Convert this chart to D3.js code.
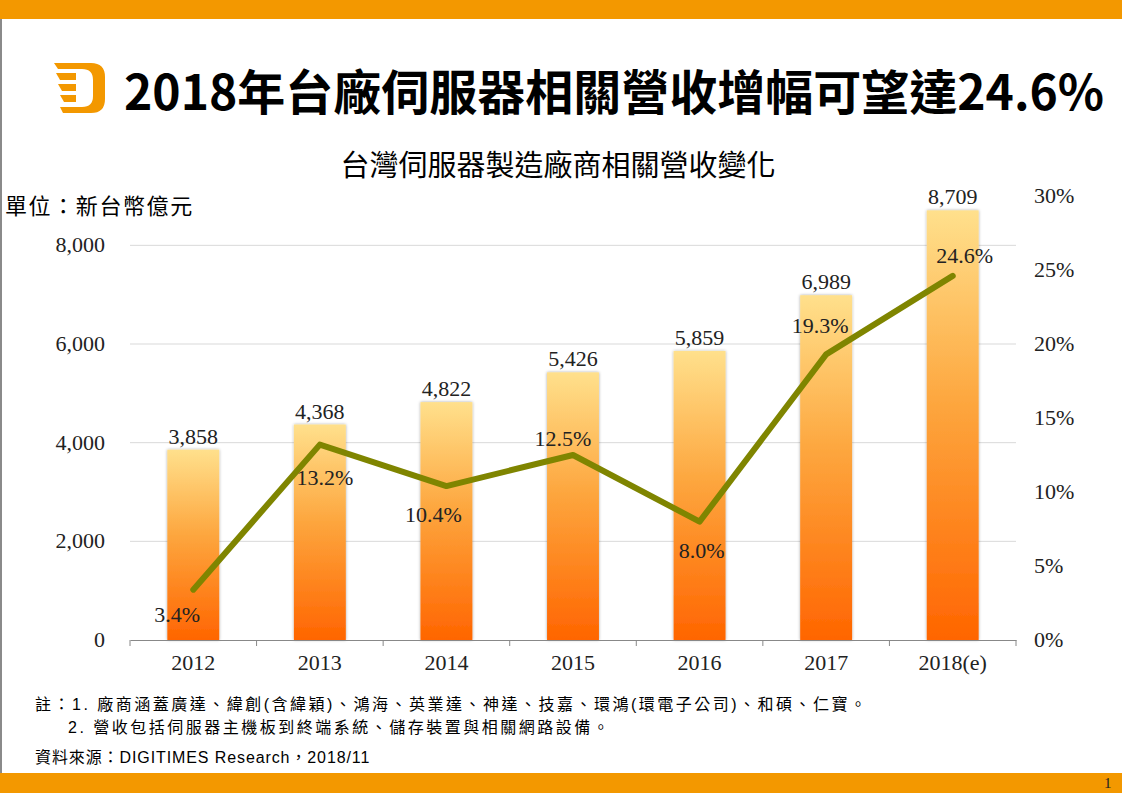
<!DOCTYPE html>
<html>
<head>
<meta charset="utf-8">
<script src="https://cdn.jsdelivr.net/npm/d3@7"></script>
<style>
  body { margin: 0; background: #fff; }
  svg { display: block; }
  .serif { font-family: 'Liberation Serif', 'Times New Roman', serif; fill: #222; }
  .cjk { font-family: 'Noto Sans CJK TC', 'Noto Sans', sans-serif; }
  .note { font-family: 'Liberation Sans', 'Noto Sans CJK TC', sans-serif; }
</style>
</head>
<body>
<svg id="chart"></svg>
<script>
const years = ['2012', '2013', '2014', '2015', '2016', '2017', '2018(e)']
const revenue = [3858, 4368, 4822, 5426, 5859, 6989, 8709]
const growth = [3.4, 13.2, 10.4, 12.5, 8.0, 19.3, 24.6]
const leftTicks = [0, 2000, 4000, 6000, 8000]
const rightTicks = [0, 5, 10, 15, 20, 25, 30]
// where each growth label sits relative to its point
const growthLabelOffset = [[-16, 32], [5, 40], [-13, 36], [-10, -9], [2, 36], [-6, -21], [12, -13]]

const W = 1122, H = 793
const plot = { left: 130, right: 1016, top: 196, bottom: 640 }

const svg = d3.select('#chart').attr('width', W).attr('height', H)

const defs = svg.append('defs')
const grad = defs.append('linearGradient')
  .attr('id', 'barGrad').attr('x1', 0).attr('y1', 0).attr('x2', 0).attr('y2', 1)
grad.append('stop').attr('offset', '0%').attr('stop-color', '#FFE08C')
grad.append('stop').attr('offset', '45%').attr('stop-color', '#FDA63E')
grad.append('stop').attr('offset', '100%').attr('stop-color', '#FF6500')
const shadow = defs.append('filter').attr('id', 'barShadow')
  .attr('x', '-20%').attr('y', '-5%').attr('width', '140%').attr('height', '110%')
shadow.append('feDropShadow').attr('dx', 0).attr('dy', 0).attr('stdDeviation', 1.5)
  .attr('flood-color', '#000').attr('flood-opacity', 0.35)

// frame
svg.append('rect').attr('x', 0).attr('y', 0).attr('width', W).attr('height', 19).attr('fill', '#F39800')
svg.append('rect').attr('x', 0).attr('y', 773).attr('width', W).attr('height', 20).attr('fill', '#F39800')
svg.append('rect').attr('x', 0).attr('y', 19).attr('width', 2).attr('height', 754).attr('fill', '#8a8a8a')
svg.append('text').attr('class', 'serif').attr('x', 1104).attr('y', 788)
  .attr('font-size', 15).text('1')

// logo
const logo = svg.append('g').attr('fill', '#F39800')
logo.append('path').attr('d', 'M54,63 H91 Q105,63 105,77 V99 Q105,113 91,113 H63 L60,107 H82 Q93,107 93,96 V80 Q93,69 82,69 H58 Z')
logo.append('path').attr('d', 'M56,73 H76 V80 H60 Z')
logo.append('path').attr('d', 'M58,84 H76 V91 H62 Z')
logo.append('path').attr('d', 'M60,95 H76 V102 H64 Z')

// titles
svg.append('text').attr('class', 'cjk').attr('x', 124).attr('y', 110)
  .attr('font-size', 48).attr('font-weight', 700).attr('fill', '#000')
  .text('2018年台廠伺服器相關營收增幅可望達24.6%')
svg.append('text').attr('class', 'cjk').attr('x', 558).attr('y', 176)
  .attr('text-anchor', 'middle').attr('font-size', 29).attr('fill', '#000')
  .text('台灣伺服器製造廠商相關營收變化')
svg.append('text').attr('class', 'cjk').attr('x', 5).attr('y', 214)
  .attr('font-size', 22).attr('letter-spacing', 1.6).attr('fill', '#000')
  .text('單位：新台幣億元')

// scales
const x = d3.scaleBand().domain(years).range([plot.left, plot.right])
const y = d3.scaleLinear().domain([0, 9000]).range([plot.bottom, plot.top])
const yr = d3.scaleLinear().domain([0, 30]).range([plot.bottom, plot.top])
const barW = x.bandwidth() * 0.41

// gridlines
svg.append('g')
  .selectAll('line').data(leftTicks.filter((d) => d > 0)).join('line')
  .attr('x1', plot.left).attr('x2', plot.right)
  .attr('y1', (d) => y(d)).attr('y2', (d) => y(d))
  .attr('stroke', '#d9d9d9').attr('stroke-width', 1)

// left axis labels
svg.append('g')
  .selectAll('text').data(leftTicks).join('text')
  .attr('class', 'serif')
  .attr('x', 105).attr('y', (d) => y(d) + 7)
  .attr('text-anchor', 'end').attr('font-size', 22)
  .text((d) => d3.format(',')(d))

// right axis labels
svg.append('g')
  .selectAll('text').data(rightTicks).join('text')
  .attr('class', 'serif')
  .attr('x', 1034).attr('y', (d) => yr(d) + 7)
  .attr('font-size', 22)
  .text((d) => d + '%')

// bars
svg.append('g')
  .selectAll('rect').data(revenue).join('rect')
  .attr('x', (d, i) => x(years[i]) + (x.bandwidth() - barW) / 2)
  .attr('y', (d) => y(d))
  .attr('width', barW)
  .attr('height', (d) => y(0) - y(d))
  .attr('fill', 'url(#barGrad)')
  .attr('filter', 'url(#barShadow)')

// bar value labels
svg.append('g')
  .selectAll('text').data(revenue).join('text')
  .attr('class', 'serif')
  .attr('x', (d, i) => x(years[i]) + x.bandwidth() / 2)
  .attr('y', (d) => y(d) - 6)
  .attr('text-anchor', 'middle').attr('font-size', 22)
  .text((d) => d3.format(',')(d))

// x axis
const xAxis = d3.axisBottom(x).tickSize(0).tickPadding(14)
const gx = svg.append('g').attr('transform', `translate(0,${plot.bottom})`).call(xAxis)
gx.select('.domain').attr('stroke', '#888')
gx.selectAll('.tick text').attr('class', 'serif').attr('font-size', 22)
  .attr('font-family', 'Liberation Serif, Times New Roman, serif').attr('fill', '#222')
svg.append('g')
  .selectAll('line').data(years.concat(['end'])).join('line')
  .attr('x1', (d, i) => plot.left + i * x.step()).attr('x2', (d, i) => plot.left + i * x.step())
  .attr('y1', plot.bottom).attr('y2', plot.bottom + 6)
  .attr('stroke', '#888')

// growth line
const line = d3.line()
  .x((d, i) => x(years[i]) + x.bandwidth() / 2)
  .y((d) => yr(d))
svg.append('path').datum(growth)
  .attr('d', line)
  .attr('fill', 'none').attr('stroke', '#7F8500').attr('stroke-width', 6)
  .attr('stroke-linejoin', 'round').attr('stroke-linecap', 'round')

svg.append('g')
  .selectAll('text').data(growth).join('text')
  .attr('class', 'serif')
  .attr('x', (d, i) => x(years[i]) + x.bandwidth() / 2 + growthLabelOffset[i][0])
  .attr('y', (d, i) => yr(d) + growthLabelOffset[i][1])
  .attr('text-anchor', 'middle').attr('font-size', 22)
  .text((d) => d.toFixed(1) + '%')

// notes
const notes = svg.append('g').attr('class', 'note').attr('font-size', 16).attr('fill', '#000')
notes.append('text').attr('x', 35).attr('y', 710).attr('letter-spacing', 2.5)
  .text('註：1. 廠商涵蓋廣達、緯創(含緯穎)、鴻海、英業達、神達、技嘉、環鴻(環電子公司)、和碩、仁寶。')
notes.append('text').attr('x', 68).attr('y', 733).attr('letter-spacing', 2.5)
  .text('2. 營收包括伺服器主機板到終端系統、儲存裝置與相關網路設備。')
notes.append('text').attr('x', 35).attr('y', 763).attr('letter-spacing', 0.9)
  .text('資料來源：DIGITIMES Research，2018/11')
</script>
</body>
</html>
